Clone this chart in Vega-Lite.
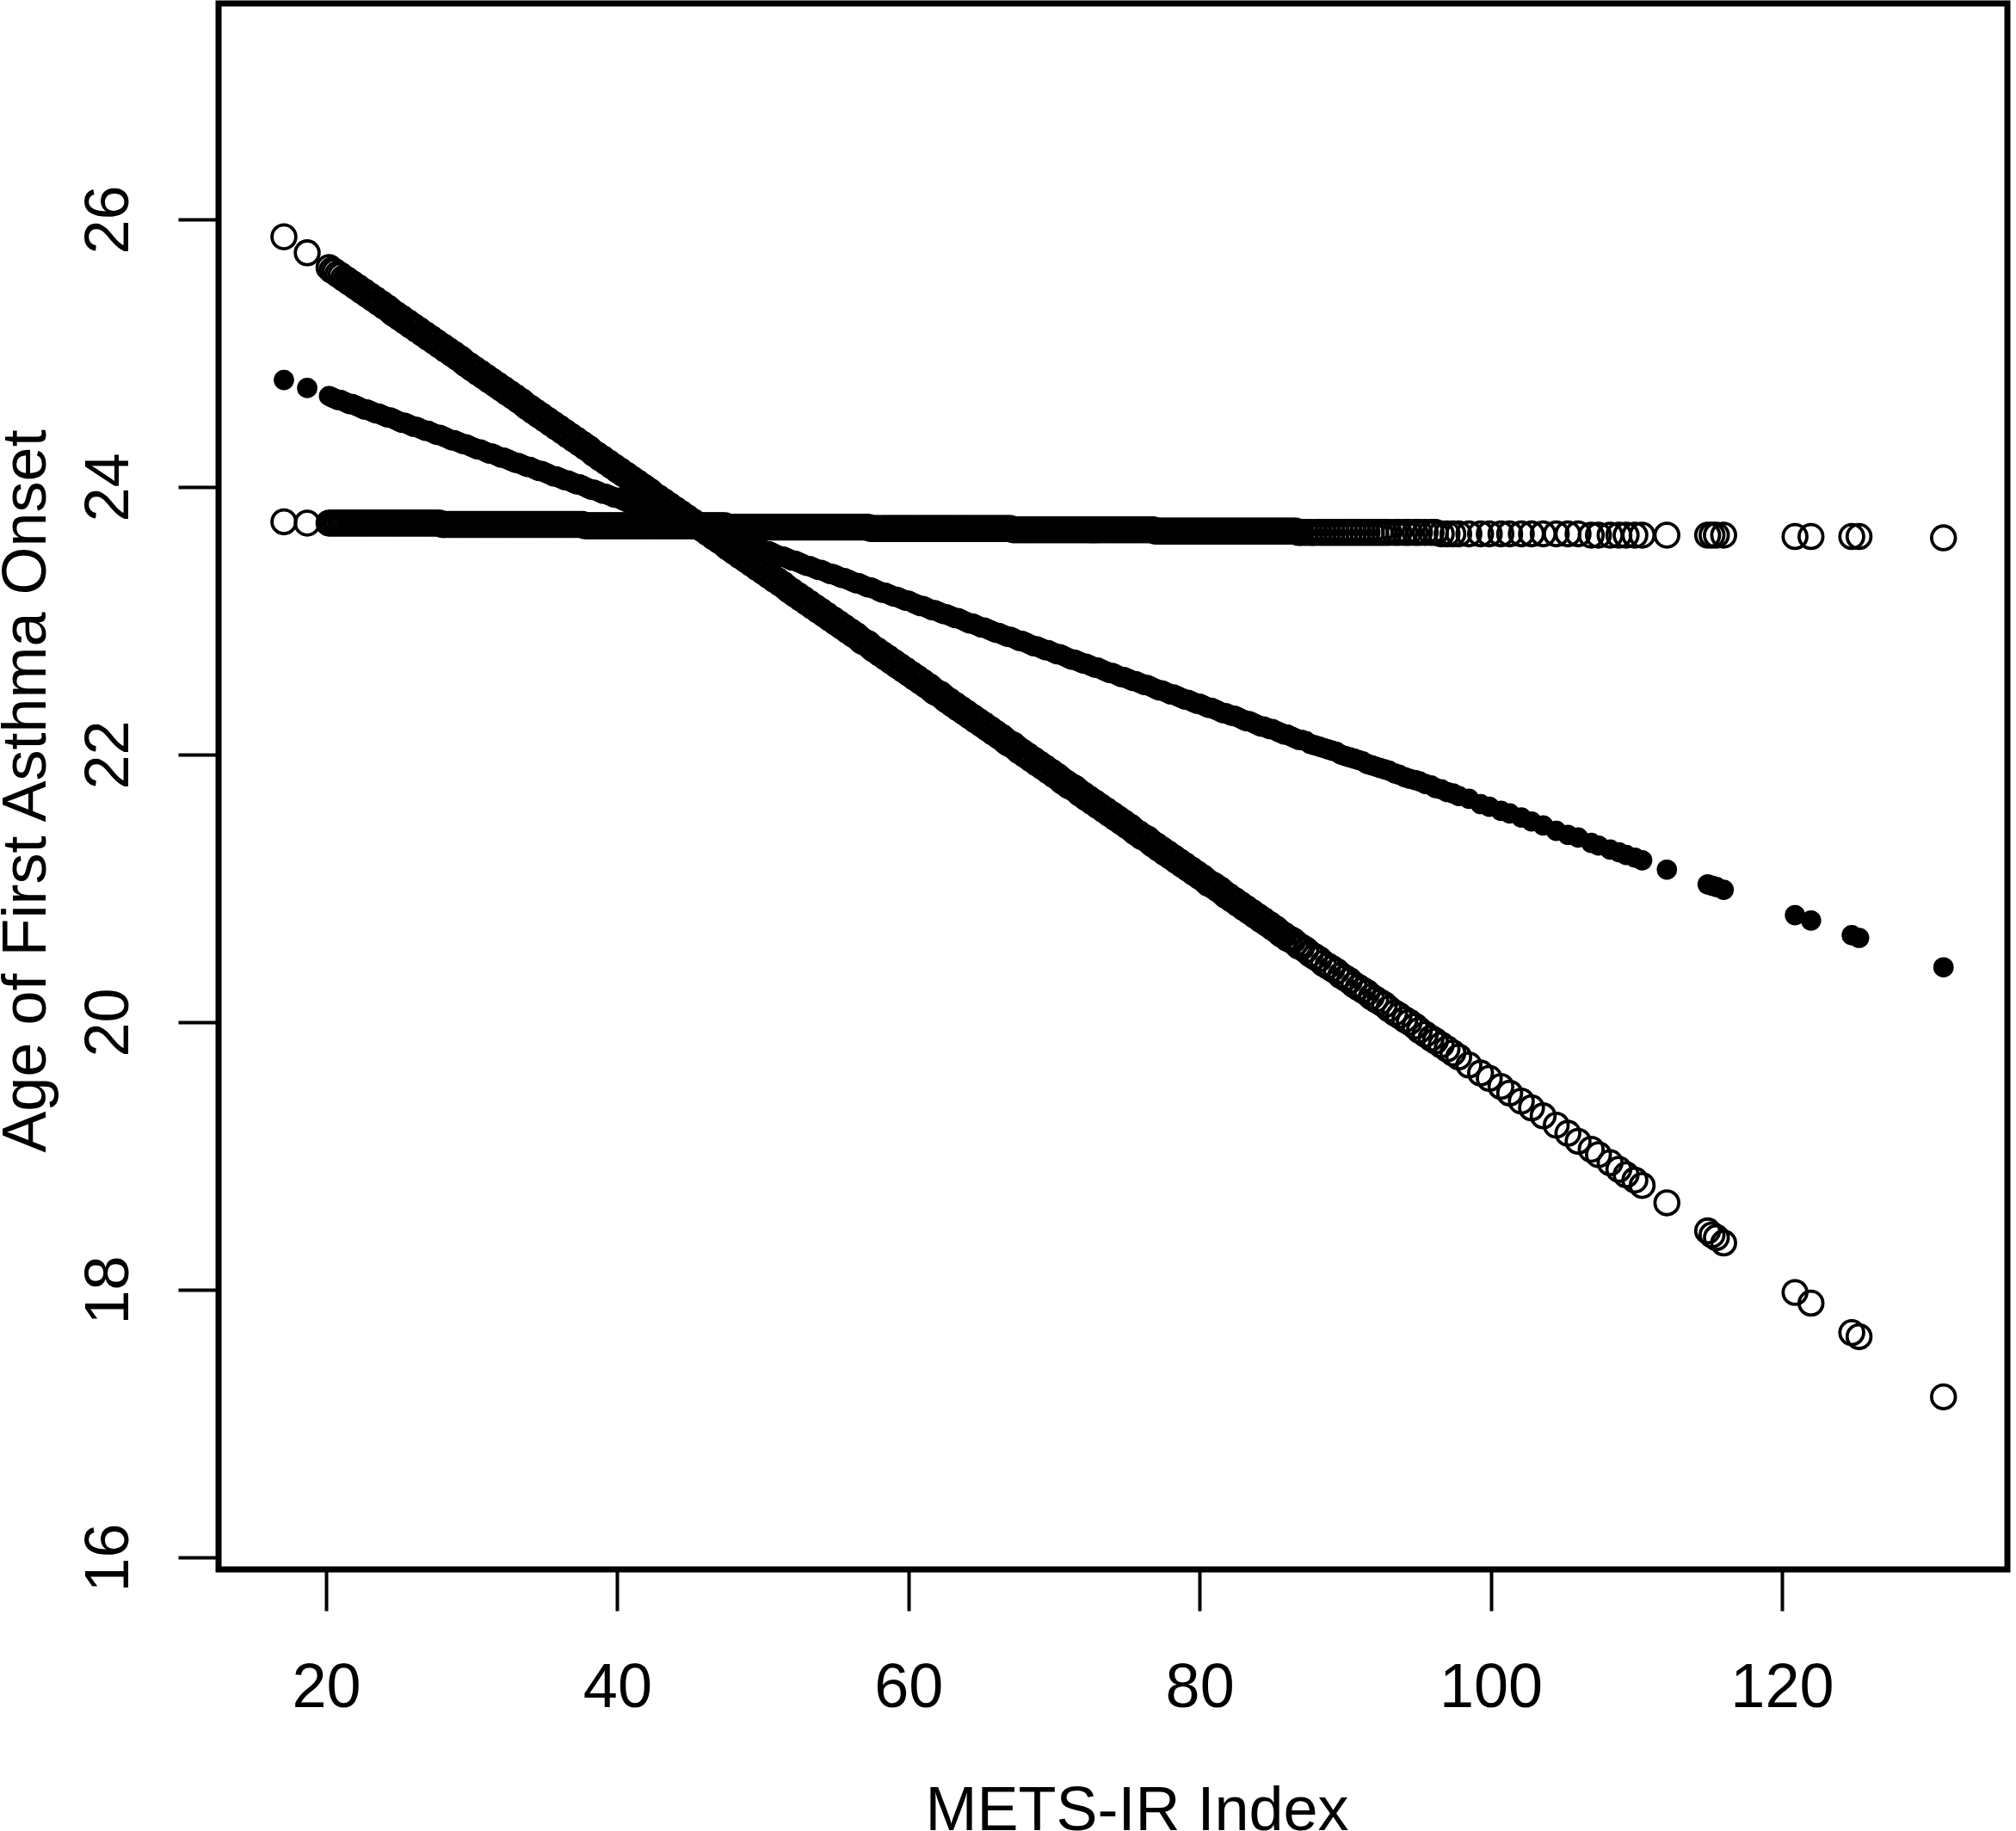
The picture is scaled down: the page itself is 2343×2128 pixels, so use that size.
{
  "$schema": "https://vega.github.io/schema/vega-lite/v6.json",
  "width": 2079,
  "height": 1820,
  "autosize": {"type": "none"},
  "padding": {"left": 254, "top": 4, "right": 10, "bottom": 304},
  "background": "white",
  "data": {"values": [
    {"x":17.1,"y1":23.74,"y2":24.8,"y3":25.87},
    {"x":18.7,"y1":23.73,"y2":24.74,"y3":25.75},
    {"x":20.2,"y1":23.73,"y2":24.68,"y3":25.64},
    {"x":20.4,"y1":23.73,"y2":24.67,"y3":25.62},
    {"x":20.6,"y1":23.73,"y2":24.66,"y3":25.61},
    {"x":20.8,"y1":23.73,"y2":24.65,"y3":25.59},
    {"x":21.0,"y1":23.73,"y2":24.65,"y3":25.58},
    {"x":21.2,"y1":23.73,"y2":24.64,"y3":25.56},
    {"x":21.4,"y1":23.73,"y2":24.63,"y3":25.55},
    {"x":21.6,"y1":23.73,"y2":24.62,"y3":25.53},
    {"x":21.8,"y1":23.73,"y2":24.62,"y3":25.52},
    {"x":22.0,"y1":23.73,"y2":24.61,"y3":25.5},
    {"x":22.2,"y1":23.73,"y2":24.6,"y3":25.49},
    {"x":22.4,"y1":23.73,"y2":24.59,"y3":25.47},
    {"x":22.6,"y1":23.73,"y2":24.58,"y3":25.46},
    {"x":22.8,"y1":23.73,"y2":24.58,"y3":25.44},
    {"x":23.0,"y1":23.73,"y2":24.57,"y3":25.43},
    {"x":23.2,"y1":23.73,"y2":24.56,"y3":25.41},
    {"x":23.4,"y1":23.73,"y2":24.55,"y3":25.4},
    {"x":23.6,"y1":23.73,"y2":24.55,"y3":25.38},
    {"x":23.8,"y1":23.73,"y2":24.54,"y3":25.37},
    {"x":24.0,"y1":23.73,"y2":24.53,"y3":25.35},
    {"x":24.2,"y1":23.73,"y2":24.52,"y3":25.34},
    {"x":24.4,"y1":23.73,"y2":24.52,"y3":25.32},
    {"x":24.6,"y1":23.73,"y2":24.51,"y3":25.3},
    {"x":24.8,"y1":23.73,"y2":24.5,"y3":25.29},
    {"x":25.0,"y1":23.73,"y2":24.49,"y3":25.27},
    {"x":25.2,"y1":23.73,"y2":24.48,"y3":25.26},
    {"x":25.4,"y1":23.73,"y2":24.48,"y3":25.24},
    {"x":25.6,"y1":23.73,"y2":24.47,"y3":25.23},
    {"x":25.8,"y1":23.73,"y2":24.46,"y3":25.21},
    {"x":26.0,"y1":23.73,"y2":24.45,"y3":25.2},
    {"x":26.2,"y1":23.73,"y2":24.45,"y3":25.18},
    {"x":26.4,"y1":23.73,"y2":24.44,"y3":25.17},
    {"x":26.6,"y1":23.73,"y2":24.43,"y3":25.15},
    {"x":26.8,"y1":23.73,"y2":24.42,"y3":25.14},
    {"x":27.0,"y1":23.73,"y2":24.42,"y3":25.12},
    {"x":27.2,"y1":23.73,"y2":24.41,"y3":25.11},
    {"x":27.4,"y1":23.73,"y2":24.4,"y3":25.09},
    {"x":27.6,"y1":23.73,"y2":24.39,"y3":25.08},
    {"x":27.8,"y1":23.73,"y2":24.39,"y3":25.06},
    {"x":28.0,"y1":23.72,"y2":24.38,"y3":25.05},
    {"x":28.2,"y1":23.72,"y2":24.37,"y3":25.03},
    {"x":28.4,"y1":23.72,"y2":24.36,"y3":25.02},
    {"x":28.6,"y1":23.72,"y2":24.35,"y3":25.0},
    {"x":28.8,"y1":23.72,"y2":24.35,"y3":24.99},
    {"x":29.0,"y1":23.72,"y2":24.34,"y3":24.97},
    {"x":29.2,"y1":23.72,"y2":24.33,"y3":24.96},
    {"x":29.4,"y1":23.72,"y2":24.32,"y3":24.94},
    {"x":29.6,"y1":23.72,"y2":24.32,"y3":24.92},
    {"x":29.8,"y1":23.72,"y2":24.31,"y3":24.91},
    {"x":30.0,"y1":23.72,"y2":24.3,"y3":24.89},
    {"x":30.2,"y1":23.72,"y2":24.29,"y3":24.88},
    {"x":30.4,"y1":23.72,"y2":24.28,"y3":24.86},
    {"x":30.6,"y1":23.72,"y2":24.28,"y3":24.85},
    {"x":30.8,"y1":23.72,"y2":24.27,"y3":24.83},
    {"x":31.0,"y1":23.72,"y2":24.26,"y3":24.82},
    {"x":31.2,"y1":23.72,"y2":24.25,"y3":24.8},
    {"x":31.4,"y1":23.72,"y2":24.25,"y3":24.79},
    {"x":31.6,"y1":23.72,"y2":24.24,"y3":24.77},
    {"x":31.8,"y1":23.72,"y2":24.23,"y3":24.76},
    {"x":32.0,"y1":23.72,"y2":24.22,"y3":24.74},
    {"x":32.2,"y1":23.72,"y2":24.22,"y3":24.73},
    {"x":32.4,"y1":23.72,"y2":24.21,"y3":24.71},
    {"x":32.6,"y1":23.72,"y2":24.2,"y3":24.7},
    {"x":32.8,"y1":23.72,"y2":24.19,"y3":24.68},
    {"x":33.0,"y1":23.72,"y2":24.18,"y3":24.67},
    {"x":33.2,"y1":23.72,"y2":24.18,"y3":24.65},
    {"x":33.4,"y1":23.72,"y2":24.17,"y3":24.64},
    {"x":33.6,"y1":23.72,"y2":24.16,"y3":24.62},
    {"x":33.8,"y1":23.72,"y2":24.15,"y3":24.6},
    {"x":34.0,"y1":23.72,"y2":24.15,"y3":24.59},
    {"x":34.2,"y1":23.72,"y2":24.14,"y3":24.57},
    {"x":34.4,"y1":23.72,"y2":24.13,"y3":24.56},
    {"x":34.6,"y1":23.72,"y2":24.12,"y3":24.54},
    {"x":34.8,"y1":23.72,"y2":24.12,"y3":24.53},
    {"x":35.0,"y1":23.72,"y2":24.11,"y3":24.51},
    {"x":35.2,"y1":23.72,"y2":24.1,"y3":24.5},
    {"x":35.4,"y1":23.72,"y2":24.09,"y3":24.48},
    {"x":35.6,"y1":23.72,"y2":24.08,"y3":24.47},
    {"x":35.8,"y1":23.72,"y2":24.08,"y3":24.45},
    {"x":36.0,"y1":23.72,"y2":24.07,"y3":24.44},
    {"x":36.2,"y1":23.72,"y2":24.06,"y3":24.42},
    {"x":36.4,"y1":23.72,"y2":24.05,"y3":24.41},
    {"x":36.6,"y1":23.72,"y2":24.05,"y3":24.39},
    {"x":36.8,"y1":23.72,"y2":24.04,"y3":24.38},
    {"x":37.0,"y1":23.72,"y2":24.03,"y3":24.36},
    {"x":37.2,"y1":23.72,"y2":24.02,"y3":24.35},
    {"x":37.4,"y1":23.72,"y2":24.02,"y3":24.33},
    {"x":37.6,"y1":23.72,"y2":24.01,"y3":24.32},
    {"x":37.8,"y1":23.71,"y2":24.0,"y3":24.3},
    {"x":38.0,"y1":23.71,"y2":23.99,"y3":24.29},
    {"x":38.2,"y1":23.71,"y2":23.98,"y3":24.27},
    {"x":38.4,"y1":23.71,"y2":23.98,"y3":24.25},
    {"x":38.6,"y1":23.71,"y2":23.97,"y3":24.24},
    {"x":38.8,"y1":23.71,"y2":23.96,"y3":24.22},
    {"x":39.0,"y1":23.71,"y2":23.95,"y3":24.21},
    {"x":39.2,"y1":23.71,"y2":23.95,"y3":24.19},
    {"x":39.4,"y1":23.71,"y2":23.94,"y3":24.18},
    {"x":39.6,"y1":23.71,"y2":23.93,"y3":24.16},
    {"x":39.8,"y1":23.71,"y2":23.92,"y3":24.15},
    {"x":40.0,"y1":23.71,"y2":23.92,"y3":24.13},
    {"x":40.2,"y1":23.71,"y2":23.91,"y3":24.12},
    {"x":40.4,"y1":23.71,"y2":23.9,"y3":24.1},
    {"x":40.6,"y1":23.71,"y2":23.89,"y3":24.09},
    {"x":40.8,"y1":23.71,"y2":23.88,"y3":24.07},
    {"x":41.0,"y1":23.71,"y2":23.88,"y3":24.06},
    {"x":41.2,"y1":23.71,"y2":23.87,"y3":24.04},
    {"x":41.4,"y1":23.71,"y2":23.86,"y3":24.03},
    {"x":41.6,"y1":23.71,"y2":23.85,"y3":24.01},
    {"x":41.8,"y1":23.71,"y2":23.85,"y3":24.0},
    {"x":42.0,"y1":23.71,"y2":23.84,"y3":23.98},
    {"x":42.2,"y1":23.71,"y2":23.83,"y3":23.97},
    {"x":42.4,"y1":23.71,"y2":23.82,"y3":23.95},
    {"x":42.6,"y1":23.71,"y2":23.82,"y3":23.93},
    {"x":42.8,"y1":23.71,"y2":23.81,"y3":23.92},
    {"x":43.0,"y1":23.71,"y2":23.8,"y3":23.9},
    {"x":43.2,"y1":23.71,"y2":23.79,"y3":23.89},
    {"x":43.4,"y1":23.71,"y2":23.78,"y3":23.87},
    {"x":43.6,"y1":23.71,"y2":23.78,"y3":23.86},
    {"x":43.8,"y1":23.71,"y2":23.77,"y3":23.84},
    {"x":44.0,"y1":23.71,"y2":23.76,"y3":23.83},
    {"x":44.2,"y1":23.71,"y2":23.75,"y3":23.81},
    {"x":44.4,"y1":23.71,"y2":23.75,"y3":23.8},
    {"x":44.6,"y1":23.71,"y2":23.74,"y3":23.78},
    {"x":44.8,"y1":23.71,"y2":23.73,"y3":23.77},
    {"x":45.0,"y1":23.71,"y2":23.72,"y3":23.75},
    {"x":45.2,"y1":23.71,"y2":23.71,"y3":23.74},
    {"x":45.4,"y1":23.71,"y2":23.71,"y3":23.72},
    {"x":45.6,"y1":23.71,"y2":23.7,"y3":23.71},
    {"x":45.8,"y1":23.71,"y2":23.69,"y3":23.69},
    {"x":46.0,"y1":23.71,"y2":23.68,"y3":23.68},
    {"x":46.2,"y1":23.71,"y2":23.68,"y3":23.66},
    {"x":46.4,"y1":23.71,"y2":23.67,"y3":23.65},
    {"x":46.6,"y1":23.71,"y2":23.66,"y3":23.63},
    {"x":46.8,"y1":23.71,"y2":23.65,"y3":23.62},
    {"x":47.0,"y1":23.71,"y2":23.65,"y3":23.6},
    {"x":47.2,"y1":23.71,"y2":23.64,"y3":23.59},
    {"x":47.4,"y1":23.71,"y2":23.63,"y3":23.57},
    {"x":47.6,"y1":23.7,"y2":23.62,"y3":23.55},
    {"x":47.8,"y1":23.7,"y2":23.61,"y3":23.54},
    {"x":48.0,"y1":23.7,"y2":23.61,"y3":23.52},
    {"x":48.2,"y1":23.7,"y2":23.6,"y3":23.51},
    {"x":48.4,"y1":23.7,"y2":23.59,"y3":23.49},
    {"x":48.6,"y1":23.7,"y2":23.58,"y3":23.48},
    {"x":48.8,"y1":23.7,"y2":23.58,"y3":23.46},
    {"x":49.0,"y1":23.7,"y2":23.57,"y3":23.45},
    {"x":49.2,"y1":23.7,"y2":23.56,"y3":23.43},
    {"x":49.4,"y1":23.7,"y2":23.55,"y3":23.42},
    {"x":49.6,"y1":23.7,"y2":23.55,"y3":23.4},
    {"x":49.8,"y1":23.7,"y2":23.54,"y3":23.39},
    {"x":50.0,"y1":23.7,"y2":23.53,"y3":23.37},
    {"x":50.2,"y1":23.7,"y2":23.52,"y3":23.36},
    {"x":50.4,"y1":23.7,"y2":23.52,"y3":23.34},
    {"x":50.6,"y1":23.7,"y2":23.51,"y3":23.33},
    {"x":50.8,"y1":23.7,"y2":23.5,"y3":23.31},
    {"x":51.0,"y1":23.7,"y2":23.49,"y3":23.3},
    {"x":51.2,"y1":23.7,"y2":23.48,"y3":23.28},
    {"x":51.4,"y1":23.7,"y2":23.48,"y3":23.27},
    {"x":51.6,"y1":23.7,"y2":23.47,"y3":23.25},
    {"x":51.8,"y1":23.7,"y2":23.46,"y3":23.23},
    {"x":52.0,"y1":23.7,"y2":23.45,"y3":23.22},
    {"x":52.2,"y1":23.7,"y2":23.45,"y3":23.2},
    {"x":52.4,"y1":23.7,"y2":23.44,"y3":23.19},
    {"x":52.6,"y1":23.7,"y2":23.43,"y3":23.17},
    {"x":52.8,"y1":23.7,"y2":23.42,"y3":23.16},
    {"x":53.0,"y1":23.7,"y2":23.41,"y3":23.14},
    {"x":53.2,"y1":23.7,"y2":23.41,"y3":23.13},
    {"x":53.4,"y1":23.7,"y2":23.4,"y3":23.11},
    {"x":53.6,"y1":23.7,"y2":23.39,"y3":23.1},
    {"x":53.8,"y1":23.7,"y2":23.38,"y3":23.08},
    {"x":54.0,"y1":23.7,"y2":23.38,"y3":23.07},
    {"x":54.2,"y1":23.7,"y2":23.37,"y3":23.05},
    {"x":54.4,"y1":23.7,"y2":23.36,"y3":23.04},
    {"x":54.6,"y1":23.7,"y2":23.35,"y3":23.02},
    {"x":54.8,"y1":23.7,"y2":23.35,"y3":23.01},
    {"x":55.0,"y1":23.7,"y2":23.34,"y3":22.99},
    {"x":55.2,"y1":23.7,"y2":23.33,"y3":22.98},
    {"x":55.4,"y1":23.7,"y2":23.32,"y3":22.96},
    {"x":55.6,"y1":23.7,"y2":23.32,"y3":22.95},
    {"x":55.8,"y1":23.7,"y2":23.31,"y3":22.93},
    {"x":56.0,"y1":23.7,"y2":23.3,"y3":22.92},
    {"x":56.2,"y1":23.7,"y2":23.29,"y3":22.9},
    {"x":56.4,"y1":23.7,"y2":23.28,"y3":22.89},
    {"x":56.6,"y1":23.7,"y2":23.28,"y3":22.87},
    {"x":56.8,"y1":23.7,"y2":23.27,"y3":22.85},
    {"x":57.0,"y1":23.7,"y2":23.26,"y3":22.84},
    {"x":57.2,"y1":23.7,"y2":23.25,"y3":22.83},
    {"x":57.4,"y1":23.69,"y2":23.25,"y3":22.81},
    {"x":57.6,"y1":23.69,"y2":23.24,"y3":22.79},
    {"x":57.8,"y1":23.69,"y2":23.23,"y3":22.78},
    {"x":58.0,"y1":23.69,"y2":23.22,"y3":22.76},
    {"x":58.2,"y1":23.69,"y2":23.21,"y3":22.75},
    {"x":58.4,"y1":23.69,"y2":23.21,"y3":22.73},
    {"x":58.6,"y1":23.69,"y2":23.2,"y3":22.72},
    {"x":58.8,"y1":23.69,"y2":23.19,"y3":22.7},
    {"x":59.0,"y1":23.69,"y2":23.18,"y3":22.69},
    {"x":59.2,"y1":23.69,"y2":23.18,"y3":22.67},
    {"x":59.4,"y1":23.69,"y2":23.17,"y3":22.66},
    {"x":59.6,"y1":23.69,"y2":23.16,"y3":22.64},
    {"x":59.8,"y1":23.69,"y2":23.15,"y3":22.63},
    {"x":60.0,"y1":23.69,"y2":23.15,"y3":22.61},
    {"x":60.2,"y1":23.69,"y2":23.14,"y3":22.6},
    {"x":60.4,"y1":23.69,"y2":23.13,"y3":22.58},
    {"x":60.6,"y1":23.69,"y2":23.12,"y3":22.57},
    {"x":60.8,"y1":23.69,"y2":23.11,"y3":22.55},
    {"x":61.0,"y1":23.69,"y2":23.11,"y3":22.54},
    {"x":61.2,"y1":23.69,"y2":23.1,"y3":22.52},
    {"x":61.4,"y1":23.69,"y2":23.09,"y3":22.51},
    {"x":61.6,"y1":23.69,"y2":23.08,"y3":22.49},
    {"x":61.8,"y1":23.69,"y2":23.08,"y3":22.47},
    {"x":62.0,"y1":23.69,"y2":23.07,"y3":22.46},
    {"x":62.2,"y1":23.69,"y2":23.06,"y3":22.45},
    {"x":62.4,"y1":23.69,"y2":23.05,"y3":22.43},
    {"x":62.6,"y1":23.69,"y2":23.05,"y3":22.41},
    {"x":62.8,"y1":23.69,"y2":23.04,"y3":22.4},
    {"x":63.0,"y1":23.69,"y2":23.03,"y3":22.38},
    {"x":63.2,"y1":23.69,"y2":23.02,"y3":22.37},
    {"x":63.4,"y1":23.69,"y2":23.02,"y3":22.35},
    {"x":63.6,"y1":23.69,"y2":23.01,"y3":22.34},
    {"x":63.8,"y1":23.69,"y2":23.0,"y3":22.32},
    {"x":64.0,"y1":23.69,"y2":22.99,"y3":22.31},
    {"x":64.2,"y1":23.69,"y2":22.98,"y3":22.29},
    {"x":64.4,"y1":23.69,"y2":22.98,"y3":22.28},
    {"x":64.6,"y1":23.69,"y2":22.97,"y3":22.26},
    {"x":64.8,"y1":23.69,"y2":22.96,"y3":22.25},
    {"x":65.0,"y1":23.69,"y2":22.95,"y3":22.23},
    {"x":65.2,"y1":23.69,"y2":22.95,"y3":22.22},
    {"x":65.4,"y1":23.69,"y2":22.94,"y3":22.2},
    {"x":65.6,"y1":23.69,"y2":22.93,"y3":22.19},
    {"x":65.8,"y1":23.69,"y2":22.92,"y3":22.17},
    {"x":66.0,"y1":23.69,"y2":22.91,"y3":22.16},
    {"x":66.2,"y1":23.69,"y2":22.91,"y3":22.14},
    {"x":66.4,"y1":23.69,"y2":22.9,"y3":22.13},
    {"x":66.6,"y1":23.69,"y2":22.89,"y3":22.11},
    {"x":66.8,"y1":23.69,"y2":22.88,"y3":22.09},
    {"x":67.0,"y1":23.69,"y2":22.88,"y3":22.08},
    {"x":67.2,"y1":23.68,"y2":22.87,"y3":22.07},
    {"x":67.4,"y1":23.68,"y2":22.86,"y3":22.05},
    {"x":67.6,"y1":23.68,"y2":22.85,"y3":22.03},
    {"x":67.8,"y1":23.68,"y2":22.85,"y3":22.02},
    {"x":68.0,"y1":23.68,"y2":22.84,"y3":22.0},
    {"x":68.2,"y1":23.68,"y2":22.83,"y3":21.99},
    {"x":68.4,"y1":23.68,"y2":22.82,"y3":21.97},
    {"x":68.6,"y1":23.68,"y2":22.81,"y3":21.96},
    {"x":68.8,"y1":23.68,"y2":22.81,"y3":21.94},
    {"x":69.0,"y1":23.68,"y2":22.8,"y3":21.93},
    {"x":69.2,"y1":23.68,"y2":22.79,"y3":21.91},
    {"x":69.4,"y1":23.68,"y2":22.78,"y3":21.9},
    {"x":69.6,"y1":23.68,"y2":22.78,"y3":21.88},
    {"x":69.8,"y1":23.68,"y2":22.77,"y3":21.87},
    {"x":70.0,"y1":23.68,"y2":22.76,"y3":21.85},
    {"x":70.2,"y1":23.68,"y2":22.75,"y3":21.84},
    {"x":70.4,"y1":23.68,"y2":22.75,"y3":21.82},
    {"x":70.6,"y1":23.68,"y2":22.74,"y3":21.8},
    {"x":70.8,"y1":23.68,"y2":22.73,"y3":21.79},
    {"x":71.0,"y1":23.68,"y2":22.72,"y3":21.77},
    {"x":71.2,"y1":23.68,"y2":22.71,"y3":21.76},
    {"x":71.4,"y1":23.68,"y2":22.71,"y3":21.75},
    {"x":71.6,"y1":23.68,"y2":22.7,"y3":21.73},
    {"x":71.8,"y1":23.68,"y2":22.69,"y3":21.71},
    {"x":72.0,"y1":23.68,"y2":22.68,"y3":21.7},
    {"x":72.2,"y1":23.68,"y2":22.68,"y3":21.68},
    {"x":72.4,"y1":23.68,"y2":22.67,"y3":21.67},
    {"x":72.6,"y1":23.68,"y2":22.66,"y3":21.65},
    {"x":72.8,"y1":23.68,"y2":22.65,"y3":21.64},
    {"x":73.0,"y1":23.68,"y2":22.65,"y3":21.62},
    {"x":73.2,"y1":23.68,"y2":22.64,"y3":21.61},
    {"x":73.4,"y1":23.68,"y2":22.63,"y3":21.59},
    {"x":73.6,"y1":23.68,"y2":22.62,"y3":21.58},
    {"x":73.8,"y1":23.68,"y2":22.61,"y3":21.56},
    {"x":74.0,"y1":23.68,"y2":22.61,"y3":21.55},
    {"x":74.2,"y1":23.68,"y2":22.6,"y3":21.53},
    {"x":74.4,"y1":23.68,"y2":22.59,"y3":21.52},
    {"x":74.6,"y1":23.68,"y2":22.58,"y3":21.5},
    {"x":74.8,"y1":23.68,"y2":22.58,"y3":21.49},
    {"x":75.0,"y1":23.68,"y2":22.57,"y3":21.47},
    {"x":75.2,"y1":23.68,"y2":22.56,"y3":21.46},
    {"x":75.4,"y1":23.68,"y2":22.55,"y3":21.44},
    {"x":75.6,"y1":23.68,"y2":22.55,"y3":21.42},
    {"x":75.8,"y1":23.68,"y2":22.54,"y3":21.41},
    {"x":76.0,"y1":23.68,"y2":22.53,"y3":21.39},
    {"x":76.2,"y1":23.68,"y2":22.52,"y3":21.38},
    {"x":76.4,"y1":23.68,"y2":22.52,"y3":21.37},
    {"x":76.6,"y1":23.68,"y2":22.51,"y3":21.35},
    {"x":76.8,"y1":23.68,"y2":22.5,"y3":21.33},
    {"x":77.0,"y1":23.67,"y2":22.49,"y3":21.32},
    {"x":77.2,"y1":23.67,"y2":22.48,"y3":21.3},
    {"x":77.4,"y1":23.67,"y2":22.48,"y3":21.29},
    {"x":77.6,"y1":23.67,"y2":22.47,"y3":21.27},
    {"x":77.8,"y1":23.67,"y2":22.46,"y3":21.26},
    {"x":78.0,"y1":23.67,"y2":22.45,"y3":21.24},
    {"x":78.2,"y1":23.67,"y2":22.45,"y3":21.23},
    {"x":78.4,"y1":23.67,"y2":22.44,"y3":21.21},
    {"x":78.6,"y1":23.67,"y2":22.43,"y3":21.2},
    {"x":78.8,"y1":23.67,"y2":22.42,"y3":21.18},
    {"x":79.0,"y1":23.67,"y2":22.41,"y3":21.17},
    {"x":79.2,"y1":23.67,"y2":22.41,"y3":21.15},
    {"x":79.4,"y1":23.67,"y2":22.4,"y3":21.14},
    {"x":79.6,"y1":23.67,"y2":22.39,"y3":21.12},
    {"x":79.8,"y1":23.67,"y2":22.38,"y3":21.11},
    {"x":80.0,"y1":23.67,"y2":22.38,"y3":21.09},
    {"x":80.2,"y1":23.67,"y2":22.37,"y3":21.08},
    {"x":80.4,"y1":23.67,"y2":22.36,"y3":21.06},
    {"x":80.6,"y1":23.67,"y2":22.35,"y3":21.04},
    {"x":80.8,"y1":23.67,"y2":22.35,"y3":21.03},
    {"x":81.0,"y1":23.67,"y2":22.34,"y3":21.02},
    {"x":81.2,"y1":23.67,"y2":22.33,"y3":21.0},
    {"x":81.4,"y1":23.67,"y2":22.32,"y3":20.99},
    {"x":81.6,"y1":23.67,"y2":22.31,"y3":20.97},
    {"x":81.8,"y1":23.67,"y2":22.31,"y3":20.95},
    {"x":82.0,"y1":23.67,"y2":22.3,"y3":20.94},
    {"x":82.2,"y1":23.67,"y2":22.29,"y3":20.92},
    {"x":82.4,"y1":23.67,"y2":22.29,"y3":20.91},
    {"x":82.6,"y1":23.67,"y2":22.28,"y3":20.89},
    {"x":82.8,"y1":23.67,"y2":22.27,"y3":20.88},
    {"x":83.0,"y1":23.67,"y2":22.26,"y3":20.86},
    {"x":83.2,"y1":23.67,"y2":22.25,"y3":20.85},
    {"x":83.4,"y1":23.67,"y2":22.25,"y3":20.83},
    {"x":83.6,"y1":23.67,"y2":22.24,"y3":20.82},
    {"x":83.8,"y1":23.67,"y2":22.23,"y3":20.8},
    {"x":84.0,"y1":23.67,"y2":22.22,"y3":20.79},
    {"x":84.2,"y1":23.67,"y2":22.21,"y3":20.77},
    {"x":84.4,"y1":23.67,"y2":22.21,"y3":20.76},
    {"x":84.6,"y1":23.67,"y2":22.2,"y3":20.74},
    {"x":84.8,"y1":23.67,"y2":22.19,"y3":20.73},
    {"x":85.0,"y1":23.67,"y2":22.19,"y3":20.71},
    {"x":85.2,"y1":23.67,"y2":22.18,"y3":20.7},
    {"x":85.4,"y1":23.67,"y2":22.17,"y3":20.68},
    {"x":85.6,"y1":23.67,"y2":22.16,"y3":20.66},
    {"x":85.8,"y1":23.67,"y2":22.15,"y3":20.65},
    {"x":86.0,"y1":23.67,"y2":22.15,"y3":20.63},
    {"x":86.2,"y1":23.67,"y2":22.14,"y3":20.62},
    {"x":86.4,"y1":23.67,"y2":22.13,"y3":20.61},
    {"x":86.6,"y1":23.67,"y2":22.12,"y3":20.59},
    {"x":86.8,"y1":23.66,"y2":22.11,"y3":20.57},
    {"x":87.0,"y1":23.66,"y2":22.11,"y3":20.56},
    {"x":87.3,"y1":23.66,"y2":22.1,"y3":20.54},
    {"x":87.6,"y1":23.66,"y2":22.08,"y3":20.51},
    {"x":87.9,"y1":23.66,"y2":22.07,"y3":20.49},
    {"x":88.2,"y1":23.66,"y2":22.06,"y3":20.47},
    {"x":88.5,"y1":23.66,"y2":22.05,"y3":20.44},
    {"x":88.8,"y1":23.66,"y2":22.04,"y3":20.42},
    {"x":89.1,"y1":23.66,"y2":22.03,"y3":20.4},
    {"x":89.4,"y1":23.66,"y2":22.02,"y3":20.38},
    {"x":89.7,"y1":23.66,"y2":22.0,"y3":20.35},
    {"x":90.0,"y1":23.66,"y2":21.99,"y3":20.33},
    {"x":90.3,"y1":23.66,"y2":21.98,"y3":20.31},
    {"x":90.6,"y1":23.66,"y2":21.97,"y3":20.28},
    {"x":90.9,"y1":23.66,"y2":21.96,"y3":20.26},
    {"x":91.2,"y1":23.66,"y2":21.95,"y3":20.24},
    {"x":91.5,"y1":23.66,"y2":21.93,"y3":20.22},
    {"x":91.8,"y1":23.66,"y2":21.92,"y3":20.19},
    {"x":92.1,"y1":23.66,"y2":21.91,"y3":20.17},
    {"x":92.4,"y1":23.66,"y2":21.9,"y3":20.15},
    {"x":92.7,"y1":23.66,"y2":21.89,"y3":20.13},
    {"x":93.0,"y1":23.66,"y2":21.88,"y3":20.1},
    {"x":93.4,"y1":23.66,"y2":21.86,"y3":20.07},
    {"x":93.7,"y1":23.66,"y2":21.85,"y3":20.05},
    {"x":94.1,"y1":23.66,"y2":21.83,"y3":20.02},
    {"x":94.4,"y1":23.66,"y2":21.82,"y3":20.0},
    {"x":94.8,"y1":23.66,"y2":21.81,"y3":19.97},
    {"x":95.1,"y1":23.66,"y2":21.8,"y3":19.94},
    {"x":95.5,"y1":23.66,"y2":21.78,"y3":19.91},
    {"x":95.9,"y1":23.66,"y2":21.77,"y3":19.88},
    {"x":96.2,"y1":23.66,"y2":21.75,"y3":19.86},
    {"x":96.6,"y1":23.65,"y2":21.74,"y3":19.83},
    {"x":97.0,"y1":23.65,"y2":21.72,"y3":19.8},
    {"x":97.4,"y1":23.65,"y2":21.71,"y3":19.77},
    {"x":97.8,"y1":23.65,"y2":21.69,"y3":19.74},
    {"x":98.5,"y1":23.65,"y2":21.67,"y3":19.68},
    {"x":99.3,"y1":23.65,"y2":21.63,"y3":19.62},
    {"x":99.9,"y1":23.65,"y2":21.61,"y3":19.58},
    {"x":100.7,"y1":23.65,"y2":21.58,"y3":19.52},
    {"x":101.3,"y1":23.65,"y2":21.56,"y3":19.47},
    {"x":102.1,"y1":23.65,"y2":21.53,"y3":19.41},
    {"x":102.8,"y1":23.65,"y2":21.5,"y3":19.36},
    {"x":103.6,"y1":23.65,"y2":21.47,"y3":19.3},
    {"x":104.5,"y1":23.65,"y2":21.43,"y3":19.23},
    {"x":105.3,"y1":23.65,"y2":21.4,"y3":19.17},
    {"x":106.0,"y1":23.65,"y2":21.38,"y3":19.11},
    {"x":106.9,"y1":23.64,"y2":21.34,"y3":19.05},
    {"x":107.4,"y1":23.64,"y2":21.32,"y3":19.01},
    {"x":108.2,"y1":23.64,"y2":21.29,"y3":18.95},
    {"x":108.8,"y1":23.64,"y2":21.27,"y3":18.9},
    {"x":109.3,"y1":23.64,"y2":21.25,"y3":18.86},
    {"x":109.9,"y1":23.64,"y2":21.23,"y3":18.82},
    {"x":110.4,"y1":23.64,"y2":21.21,"y3":18.78},
    {"x":112.1,"y1":23.64,"y2":21.14,"y3":18.65},
    {"x":114.9,"y1":23.64,"y2":21.03,"y3":18.44},
    {"x":115.2,"y1":23.64,"y2":21.02,"y3":18.41},
    {"x":115.5,"y1":23.64,"y2":21.01,"y3":18.39},
    {"x":116.0,"y1":23.64,"y2":20.99,"y3":18.35},
    {"x":120.9,"y1":23.63,"y2":20.8,"y3":17.98},
    {"x":122.0,"y1":23.63,"y2":20.76,"y3":17.9},
    {"x":124.8,"y1":23.63,"y2":20.65,"y3":17.68},
    {"x":125.3,"y1":23.63,"y2":20.63,"y3":17.65},
    {"x":131.1,"y1":23.62,"y2":20.41,"y3":17.2}
  ]},
  "encoding": {
    "x": {
      "field": "x",
      "type": "quantitative",
      "title": "METS-IR Index",
      "scale": {"domain": [12.61, 135.49], "nice": false, "zero": false},
      "axis": {
        "values": [20, 40, 60, 80, 100, 120],
        "format": "d",
        "tickSize": 48,
        "labelPadding": 111,
        "labelBaseline": "alphabetic",
        "labelFlush": false,
        "labelOverlap": false,
        "titleX": 1067,
        "titleY": 302,
        "titleBaseline": "alphabetic",
        "titleAlign": "center",
        "titleAngle": 0
      }
    }
  },
  "layer": [
    {
      "mark": {"type": "point", "shape": "circle", "filled": false, "stroke": "black", "strokeWidth": 3.8, "size": 765, "opacity": 1},
      "encoding": {
        "y": {
          "field": "y1",
          "type": "quantitative",
          "title": "Age of First Asthma Onset",
          "scale": {"domain": [15.91, 27.614], "nice": false, "zero": false},
          "axis": {
            "values": [16, 18, 20, 22, 24, 26],
            "format": "d",
            "tickSize": 47,
            "labelAngle": 270,
            "labelAlign": "center",
            "labelBaseline": "alphabetic",
            "labelPadding": 59,
            "labelFlush": false,
            "labelOverlap": false,
            "titleX": -202,
            "titleY": 915,
            "titleAngle": 270,
            "titleAlign": "center",
            "titleBaseline": "alphabetic"
          }
        }
      }
    },
    {
      "mark": {"type": "point", "shape": "circle", "filled": true, "color": "black", "strokeWidth": 0, "size": 560, "opacity": 1},
      "encoding": {
        "y": {"field": "y2", "type": "quantitative", "title": "Age of First Asthma Onset", "axis": {"format": "d"}}
      }
    },
    {
      "mark": {"type": "point", "shape": "circle", "filled": false, "stroke": "black", "strokeWidth": 3.8, "size": 765, "opacity": 1},
      "encoding": {
        "y": {"field": "y3", "type": "quantitative", "title": "Age of First Asthma Onset", "axis": {"format": "d"}}
      }
    }
  ],
  "config": {
    "view": {"stroke": "black", "strokeWidth": 7},
    "axis": {
      "domain": false,
      "grid": false,
      "ticks": true,
      "tickColor": "black",
      "tickWidth": 4,
      "labelFont": "Liberation Sans",
      "labelFontSize": 72,
      "labelColor": "black",
      "titleFont": "Liberation Sans",
      "titleFontSize": 72,
      "titleFontWeight": "normal",
      "titleColor": "black"
    }
  }
}
